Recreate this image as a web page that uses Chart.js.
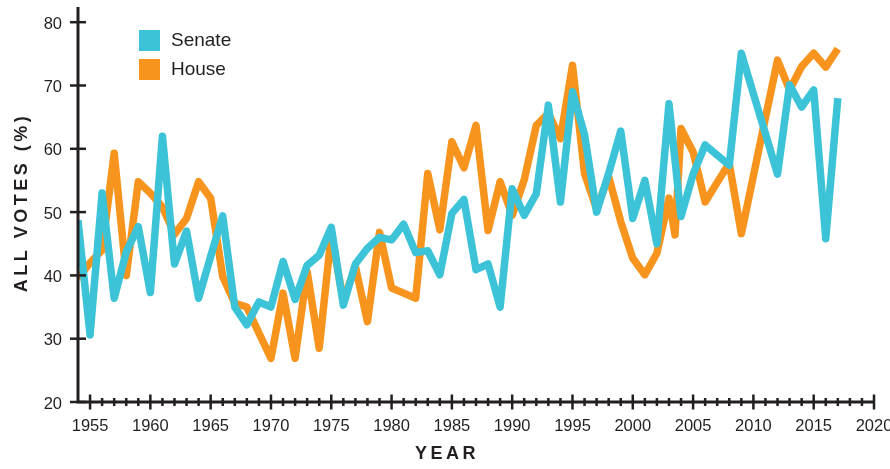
<!DOCTYPE html>
<html>
<head>
<meta charset="utf-8">
<script src="https://cdn.jsdelivr.net/npm/chart.js@4.4.1/dist/chart.umd.min.js"></script>
<style>
  html, body { margin: 0; padding: 0; background: #fff; }
  #wrap { width: 890px; height: 469px; position: relative; }
</style>
</head>
<body>
<div id="wrap"><canvas id="votes-chart"></canvas></div>
<script>
// Share of all votes, by year
const senateYears = [1954, 1955, 1956, 1957, 1958, 1959, 1960, 1961, 1962, 1963, 1964, 1965, 1966, 1967, 1968, 1969,
    1970, 1971, 1972, 1973, 1974, 1975, 1976, 1977, 1978, 1979, 1980, 1981, 1982, 1983, 1984, 1985, 1986, 1987, 1988,
    1989, 1990, 1991, 1992, 1993, 1994, 1995, 1996, 1997, 1998, 1999, 2000, 2001, 2002, 2003, 2004, 2005, 2006, 2007,
    2008, 2009, 2010, 2011, 2012, 2013, 2014, 2015, 2016, 2017];
const senateVotes = [48.7, 30.6, 53.0, 36.4, 43.7, 47.7, 37.3, 62.0, 41.8, 47.0, 36.4, 43.0, 49.4, 35.0, 32.2, 35.8,
    35.0, 42.2, 36.2, 41.6, 43.2, 47.6, 35.3, 41.8, 44.3, 46.0, 45.6, 48.1, 43.6, 43.9, 40.1, 49.8, 52.0, 40.9, 41.8,
    35.0, 53.7, 49.5, 52.9, 66.9, 51.6, 69.0, 62.2, 50.0, 56.1, 62.8, 49.0, 55.0, 45.0, 67.1, 49.3, 56.0, 60.6, 59.0,
    57.4, 75.1, 68.7, 62.4, 56.0, 70.1, 66.6, 69.3, 45.8, 68.0];

const houseYears = [1954, 1955, 1956, 1957, 1958, 1959, 1960, 1961, 1962, 1963, 1964, 1965, 1966, 1967, 1968, 1969,
    1970, 1971, 1972, 1973, 1974, 1975, 1976, 1977, 1978, 1979, 1980, 1981, 1982, 1983, 1984, 1985, 1986, 1987, 1988,
    1989, 1990, 1991, 1992, 1993, 1994, 1995, 1996, 1997, 1998, 1999, 2000, 2001, 2002, 2003, 2003.5, 2004, 2005, 2006,
    2007, 2008, 2009, 2010, 2011, 2012, 2013, 2014, 2015, 2016, 2017];
const houseVotes = [39.5, 42.0, 44.0, 59.3, 40.0, 54.8, 53.0, 50.8, 46.5, 49.0, 54.8, 52.2, 39.8, 35.6, 35.0, 30.9,
    26.9, 37.2, 26.9, 40.6, 28.5, 46.5, 36.0, 41.4, 32.7, 46.8, 38.0, 37.2, 36.4, 56.1, 47.2, 61.1, 57.0, 63.7, 47.1,
    54.8, 49.5, 55.1, 63.7, 65.6, 61.6, 73.2, 56.1, 50.5, 55.6, 48.5, 42.7, 40.1, 43.5, 52.2, 46.4, 63.2, 59.5, 51.6,
    54.7, 57.7, 46.6, 55.7, 64.9, 74.0, 69.3, 73.0, 75.1, 72.9, 75.8];

const yearRange = [1954, 2020];
const voteRange = [20, 82.4];

const INK = '#231f20';
const FONT = '"Liberation Sans", Arial, Helvetica, sans-serif';

function toPoints(xs, ys) {
    return xs.map((x, i) => ({ x: x, y: ys[i] }));
}

function segment(ctx, x1, y1, x2, y2) {
    ctx.beginPath();
    ctx.moveTo(x1, y1);
    ctx.lineTo(x2, y2);
    ctx.stroke();
}

// keep the plot area fixed: no extra room for overhanging tick labels
function fixScale(size) {
    return s => {
        if (s.isHorizontal()) s.height = size; else s.width = size;
        s.paddingTop = 0;
        s.paddingBottom = 0;
        s.paddingLeft = 0;
        s.paddingRight = 0;
    };
}

// Axis lines, crossing ticks, legend and spaced-out axis titles
const axisDecor = {
    id: 'axisDecor',
    afterDraw(chart) {
        const ctx = chart.ctx;
        const a = chart.chartArea;
        const xs = chart.scales.x;
        const ys = chart.scales.y;
        ctx.save();
        ctx.strokeStyle = INK;
        ctx.lineCap = 'butt';

        ctx.lineWidth = 3;
        ctx.beginPath();
        ctx.moveTo(a.left, a.top);
        ctx.lineTo(a.left, a.bottom);
        ctx.lineTo(a.right, a.bottom);
        ctx.stroke();

        ctx.lineWidth = 2.5;
        ys.ticks.forEach(t => {
            const py = ys.getPixelForValue(t.value);
            segment(ctx, a.left - 8, py, a.left + 8, py);
        });
        for (let yr = Math.ceil(xs.min) + 1; yr <= xs.max; yr++) {
            const px = xs.getPixelForValue(yr);
            const h = yr % 5 === 0 ? 7.5 : 4;
            segment(ctx, px, a.bottom - h, px, a.bottom + h);
        }

        // legend
        ctx.font = '19px ' + FONT;
        ctx.textAlign = 'left';
        ctx.textBaseline = 'middle';
        chart.data.datasets.forEach((ds, i) => {
            const top = a.top + 23 + i * 29;
            ctx.fillStyle = ds.borderColor;
            ctx.fillRect(a.left + 61, top, 21, 21);
            ctx.fillStyle = INK;
            ctx.fillText(ds.label, a.left + 93, top + 11);
        });

        // axis titles
        ctx.font = 'bold 18px ' + FONT;
        ctx.letterSpacing = '3.5px';
        ctx.textAlign = 'center';
        ctx.fillStyle = INK;
        ctx.fillText('YEAR', chart.width / 2 + 2, 454);
        ctx.translate(22, (a.top + a.bottom) / 2);
        ctx.rotate(-Math.PI / 2);
        ctx.fillText('ALL VOTES (%)', 2, 0);
        ctx.restore();
    }
};

const ctx = document.getElementById('votes-chart').getContext('2d');
new Chart(ctx, {
    type: 'line',
    data: {
        datasets: [{
            label: 'Senate',
            data: toPoints(senateYears, senateVotes),
            borderColor: '#3dc3d7',
            borderWidth: 7.5,
            borderJoinStyle: 'round',
            pointRadius: 0,
            tension: 0,
        }, {
            label: 'House',
            data: toPoints(houseYears, houseVotes),
            borderColor: '#f7941d',
            borderWidth: 7.5,
            borderJoinStyle: 'round',
            pointRadius: 0,
            tension: 0,
        }]
    },
    options: {
        responsive: true,
        maintainAspectRatio: false,
        animation: false,
        layout: { padding: { top: 7, right: 16, bottom: 0, left: 0 } },
        plugins: {
            legend: { display: false },
            tooltip: { enabled: false }
        },
        scales: {
            x: {
                type: 'linear',
                min: yearRange[0],
                max: yearRange[1],
                grid: { display: false },
                border: { display: false },
                ticks: {
                    stepSize: 5,
                    includeBounds: false,
                    padding: 7,
                    color: INK,
                    maxRotation: 0,
                    autoSkip: false,
                    font: { family: FONT, size: 16.5 },
                    callback: v => String(v)
                },
                afterFit: fixScale(67)
            },
            y: {
                min: voteRange[0],
                max: voteRange[1],
                grid: { display: false },
                border: { display: false },
                ticks: {
                    stepSize: 10,
                    includeBounds: false,
                    padding: 8,
                    labelOffset: 2,
                    color: INK,
                    font: { family: FONT, size: 16.5 }
                },
                afterFit: fixScale(78)
            }
        }
    },
    plugins: [axisDecor]
});
</script>
</body>
</html>
